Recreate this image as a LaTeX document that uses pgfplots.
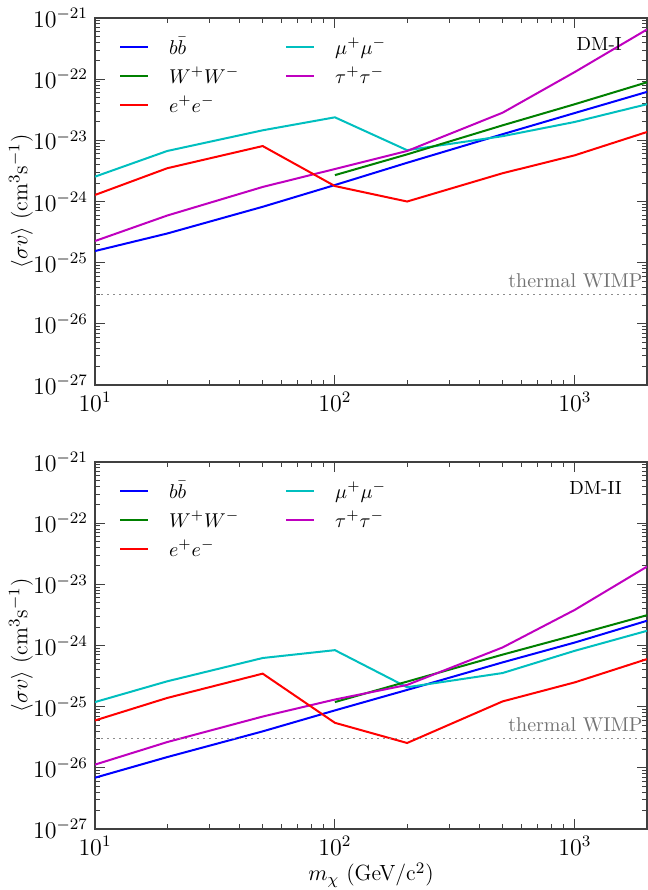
\documentclass[border=0pt]{standalone}
\usepackage{pgfplots}
\pgfplotsset{compat=1.18}
\definecolor{mplb}{rgb}{0,0,1}
\definecolor{mplg}{rgb}{0,0.5,0}
\definecolor{mplr}{rgb}{1,0,0}
\definecolor{mplc}{rgb}{0,0.75,0.75}
\definecolor{mplm}{rgb}{0.75,0,0.75}
\pgfplotsset{
  every axis plot/.append style={line width=1pt},
  legend image code/.code={\draw[#1, line width=1pt] (0pt,0pt) -- (14pt,0pt);},
}
\begin{document}
\begin{tikzpicture}
\path[use as bounding box] (-47.5pt,-30.5pt) rectangle (276.3pt,414.5pt);
% top panel
\begin{axis}[xmode=log, ymode=log, scale only axis, width=276pt, height=183.5pt,
  xmin=10, xmax=2000, ymin=1e-27, ymax=1e-21,
  tick align=inside, major tick length=5pt, minor tick length=2.5pt,
  axis line style={black!75, line width=0.6pt},
  every tick/.style={black!75, line width=0.5pt},
  tick label style={font=\fontsize{12}{14}\selectfont},
  label style={font=\fontsize{11}{13}\selectfont},
  ylabel style={at={(axis description cs:-0.134,0.5)}, anchor=center, rotate=0},
  legend columns=2,
  legend cell align=left,
  legend style={draw=none, fill=none, at={(0.043,0.96)}, anchor=north west,
    inner sep=0pt, row sep=1pt,
    font=\fontsize{10}{12}\selectfont,
    nodes={inner sep=1pt, text height=9.5pt, text depth=2pt},
    /tikz/every odd column/.append style={column sep=9pt},
    /tikz/every even column/.append style={column sep=22pt}},
  at={(0pt,222pt)}, anchor=south west,
  ylabel={$\langle\sigma v\rangle$ (cm$^3$s$^{-1}$)}]
\addplot[mplb] coordinates {(10,1.55e-25)(20,3.0e-25)(50,8.2e-25)(100,1.86e-24)(200,4.3e-24)(500,1.26e-23)(1000,2.8e-23)(2000,6.2e-23)};
\addlegendentry{$b\bar{b}$}
\addplot[mplc] coordinates {(10,2.55e-24)(20,6.7e-24)(50,1.46e-23)(100,2.38e-23)(200,6.9e-24)(500,1.17e-23)(1000,2.0e-23)(2000,3.9e-23)};
\addlegendentry{$\mu^+\mu^-$}
\addplot[mplg] coordinates {(100,2.7e-24)(200,5.9e-24)(500,1.76e-23)(1000,3.9e-23)(2000,8.9e-23)};
\addlegendentry{$W^+W^-$}
\addplot[mplm] coordinates {(10,2.26e-25)(20,5.9e-25)(50,1.73e-24)(100,3.4e-24)(200,6.7e-24)(500,2.83e-23)(1000,1.31e-22)(2000,6.5e-22)};
\addlegendentry{$\tau^+\tau^-$}
\addplot[mplr] coordinates {(10,1.28e-24)(20,3.5e-24)(50,8.07e-24)(100,1.79e-24)(200,1.0e-24)(500,2.9e-24)(1000,5.7e-24)(2000,1.37e-23)};
\addlegendentry{$e^+e^-$}
\addplot[black!45, dotted, line width=0.6pt, forget plot] coordinates {(10,3e-26)(2000,3e-26)};
\node[anchor=south east, text=black!55, font=\fontsize{10}{12}\selectfont, inner sep=2pt] at (rel axis cs:1,0.2525) {thermal WIMP};
\node[anchor=north east, inner sep=0pt, font=\fontsize{9.5}{11}\selectfont] at (rel axis cs:0.955,0.948) {DM-I};
\end{axis}
% bottom panel
\begin{axis}[xmode=log, ymode=log, scale only axis, width=276pt, height=183.5pt,
  xmin=10, xmax=2000, ymin=1e-27, ymax=1e-21,
  tick align=inside, major tick length=5pt, minor tick length=2.5pt,
  axis line style={black!75, line width=0.6pt},
  every tick/.style={black!75, line width=0.5pt},
  tick label style={font=\fontsize{12}{14}\selectfont},
  label style={font=\fontsize{11}{13}\selectfont},
  ylabel style={at={(axis description cs:-0.134,0.5)}, anchor=center, rotate=0},
  xlabel style={at={(axis description cs:0.5,0)}, anchor=center, yshift=-23pt},
  legend columns=2,
  legend cell align=left,
  legend style={draw=none, fill=none, at={(0.043,0.96)}, anchor=north west,
    inner sep=0pt, row sep=1pt,
    font=\fontsize{10}{12}\selectfont,
    nodes={inner sep=1pt, text height=9.5pt, text depth=2pt},
    /tikz/every odd column/.append style={column sep=9pt},
    /tikz/every even column/.append style={column sep=22pt}},
  at={(0pt,0pt)}, anchor=south west,
  ylabel={$\langle\sigma v\rangle$ (cm$^3$s$^{-1}$)},
  xlabel={$m_\chi$ (GeV/c$^2$)}]
\addplot[mplb] coordinates {(10,6.9e-27)(20,1.5e-26)(50,3.95e-26)(100,8.7e-26)(200,1.88e-25)(500,5.3e-25)(1000,1.12e-24)(2000,2.54e-24)};
\addlegendentry{$b\bar{b}$}
\addplot[mplc] coordinates {(10,1.19e-25)(20,2.6e-25)(50,6.25e-25)(100,8.4e-25)(200,2.08e-25)(500,3.55e-25)(1000,8.2e-25)(2000,1.74e-24)};
\addlegendentry{$\mu^+\mu^-$}
\addplot[mplg] coordinates {(100,1.19e-25)(200,2.57e-25)(500,7.1e-25)(1000,1.48e-24)(2000,3.13e-24)};
\addlegendentry{$W^+W^-$}
\addplot[mplm] coordinates {(10,1.13e-26)(20,2.64e-26)(50,6.9e-26)(100,1.31e-25)(200,2.27e-25)(500,9.3e-25)(1000,3.83e-24)(2000,1.95e-23)};
\addlegendentry{$\tau^+\tau^-$}
\addplot[mplr] coordinates {(10,5.96e-26)(20,1.39e-25)(50,3.47e-25)(100,5.45e-26)(200,2.55e-26)(500,1.22e-25)(1000,2.5e-25)(2000,6.0e-25)};
\addlegendentry{$e^+e^-$}
\addplot[black!45, dotted, line width=0.6pt, forget plot] coordinates {(10,3e-26)(2000,3e-26)};
\node[anchor=south east, text=black!55, font=\fontsize{10}{12}\selectfont, inner sep=2pt] at (rel axis cs:1,0.2525) {thermal WIMP};
\node[anchor=north east, inner sep=0pt, font=\fontsize{9.5}{11}\selectfont] at (rel axis cs:0.955,0.948) {DM-II};
\end{axis}
\end{tikzpicture}
\end{document}
